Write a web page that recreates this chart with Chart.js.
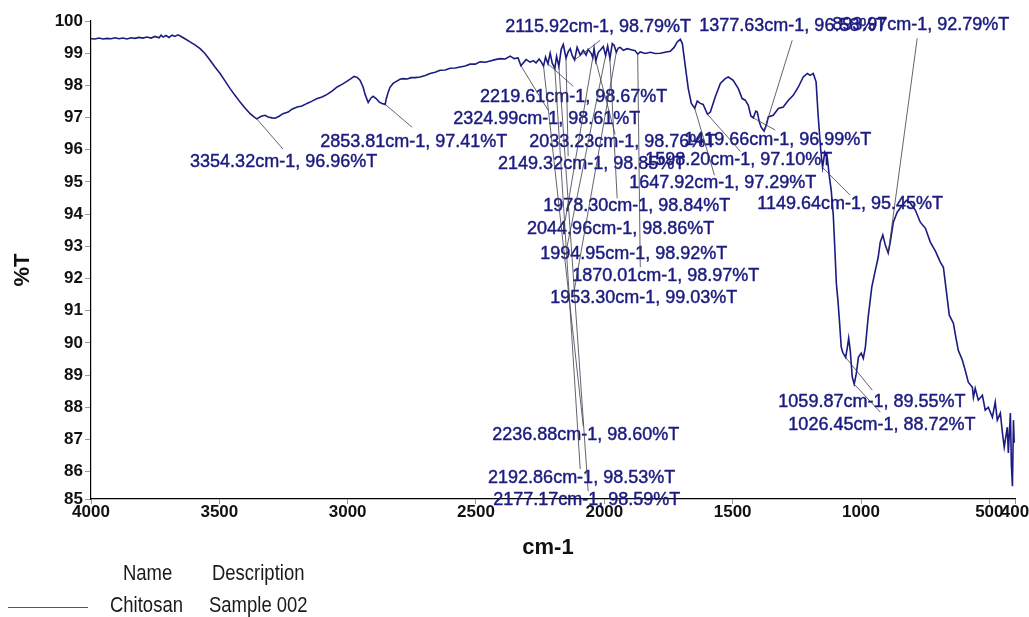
<!DOCTYPE html>
<html>
<head>
<meta charset="utf-8">
<title>FTIR spectrum – Chitosan</title>
<script src="https://cdn.jsdelivr.net/npm/chart.js@4/dist/chart.umd.min.js"></script>
<style>
  html, body { margin: 0; padding: 0; background: #fff; overflow: hidden; }
  canvas { display: block; }
</style>
</head>
<body>
<canvas id="spectrum" width="1029" height="617" style="width:1029px;height:617px"></canvas>
<script>
// Wavenumber axis (cm-1) and measured transmittance (%T) of the spectrum
const wavenumber = [
  4000, 3984, 3969, 3953, 3938, 3922, 3906, 3891, 3875, 3860, 3844, 3829, 3813, 3797, 3782, 3766,
  3751, 3735, 3727, 3719, 3708, 3696, 3684, 3673, 3661, 3649, 3634, 3614, 3595, 3575, 3556, 3536,
  3517, 3497, 3478, 3458, 3439, 3419, 3400, 3380, 3365, 3354.32, 3337, 3322, 3310, 3295, 3283, 3267,
  3252, 3232, 3217, 3197, 3178, 3158, 3139, 3119, 3100, 3080, 3061, 3041, 3022, 3002, 2987, 2975,
  2963, 2952, 2940, 2932, 2920, 2909, 2901, 2889, 2877, 2866, 2853.81, 2850, 2842, 2835, 2823, 2807,
  2796, 2784, 2768, 2753, 2737, 2718, 2698, 2679, 2659, 2640, 2620, 2601, 2581, 2562, 2542, 2523,
  2503, 2484, 2464, 2445, 2425, 2406, 2386, 2367, 2351, 2336, 2324.99, 2305, 2289, 2277, 2266, 2254,
  2246, 2236.88, 2229, 2219.61, 2211, 2203, 2192.86, 2186, 2177.17, 2168, 2160, 2149.32, 2141, 2133, 2125, 2115.92,
  2106, 2094, 2082, 2071, 2063, 2051, 2044.96, 2040, 2033.23, 2024, 2016, 2004, 1994.95, 1987, 1978.30, 1969,
  1962, 1953.30, 1946, 1938, 1926, 1911, 1891, 1880, 1870.01, 1860, 1841, 1821, 1802, 1782, 1763, 1743,
  1728, 1716, 1704, 1696, 1685, 1673, 1661, 1647.92, 1638, 1626, 1615, 1598.20, 1587, 1568, 1548, 1529,
  1517, 1498, 1478, 1463, 1451, 1439, 1429, 1419.66, 1410, 1404, 1396, 1389, 1377.63, 1369, 1361, 1342,
  1322, 1303, 1283, 1264, 1244, 1225, 1209, 1198, 1186, 1175, 1167, 1157, 1149.64, 1141, 1131, 1124,
  1116, 1108, 1102, 1096, 1090, 1085, 1077, 1071, 1059.87, 1053, 1048, 1042, 1034, 1026.45, 1018, 1010,
  999, 991, 983, 972, 958, 944, 933, 925, 915, 905, 893.97, 886, 874, 859, 839, 823,
  808, 788, 769, 749, 730, 710, 691, 679, 668, 656, 640, 632, 621, 605, 594, 582,
  566, 562, 555, 543, 527, 516, 504, 488, 477, 469, 457, 449, 442, 430, 426, 418,
  414, 410, 406, 403
];
const transmittance = [
  99.45, 99.44, 99.47, 99.44, 99.46, 99.45, 99.48, 99.45, 99.47, 99.44, 99.48, 99.46, 99.49, 99.47, 99.50, 99.47,
  99.52, 99.48, 99.56, 99.50, 99.55, 99.49, 99.56, 99.52, 99.57, 99.52, 99.45, 99.35, 99.26, 99.14, 98.99, 98.78,
  98.57, 98.37, 98.14, 97.90, 97.69, 97.48, 97.30, 97.12, 97.02, 96.96, 97.04, 97.07, 97.02, 96.99, 96.98, 97.04,
  97.12, 97.17, 97.26, 97.33, 97.36, 97.44, 97.51, 97.59, 97.64, 97.72, 97.82, 97.95, 98.03, 98.13, 98.21, 98.28,
  98.25, 98.16, 97.95, 97.72, 97.47, 97.61, 97.66, 97.59, 97.48, 97.44, 97.41, 97.57, 97.79, 97.94, 98.06, 98.14,
  98.19, 98.21, 98.20, 98.24, 98.24, 98.26, 98.31, 98.37, 98.41, 98.47, 98.48, 98.53, 98.54, 98.57, 98.60, 98.66,
  98.66, 98.73, 98.72, 98.76, 98.80, 98.83, 98.82, 98.91, 98.83, 98.85, 98.61, 98.80, 98.72, 98.77, 98.70, 98.82,
  98.73, 98.60, 98.88, 98.67, 99.00, 98.69, 98.53, 98.90, 98.59, 99.12, 99.27, 98.85, 99.04, 99.14, 98.92, 98.79,
  99.18, 98.94, 99.09, 98.94, 99.12, 98.99, 98.86, 99.15, 98.76, 99.02, 99.09, 99.21, 98.92, 99.22, 98.84, 99.30,
  99.25, 99.03, 99.16, 99.18, 99.09, 99.14, 99.10, 99.08, 98.97, 99.04, 98.99, 99.03, 98.99, 99.00, 99.03, 99.06,
  99.18, 99.35, 99.43, 99.30, 98.62, 97.90, 97.44, 97.29, 97.51, 97.44, 97.41, 97.10, 97.17, 97.64, 98.06, 98.21,
  98.26, 98.16, 97.90, 97.59, 97.54, 97.38, 97.05, 96.99, 97.20, 97.17, 96.86, 96.70, 96.58, 96.76, 97.02, 97.07,
  97.28, 97.33, 97.54, 97.69, 97.95, 98.26, 98.37, 98.31, 98.37, 98.11, 97.07, 96.00, 95.45, 95.92, 95.74, 95.21,
  94.74, 93.97, 92.94, 91.85, 91.33, 90.80, 89.87, 89.70, 89.55, 89.87, 90.15, 89.77, 88.94, 88.72, 89.06, 89.56,
  89.68, 89.52, 89.87, 90.80, 91.73, 92.26, 92.66, 93.13, 93.35, 93.03, 92.79, 93.13, 93.75, 94.06, 94.28, 94.43,
  94.34, 94.12, 93.75, 93.56, 93.13, 92.85, 92.51, 92.35, 91.64, 90.86, 90.61, 90.24, 89.77, 89.46, 89.15, 88.78,
  88.62, 88.31, 88.59, 88.22, 88.37, 87.91, 88.00, 87.69, 88.16, 87.60, 87.82, 87.20, 86.76, 87.38, 86.58, 87.82,
  86.20, 85.55, 87.60, 86.90
];

// Picked peaks: position (cm-1) and transmittance (%T)
const peakWavenumber = [3354.32, 2853.81, 2115.92, 2219.61, 2324.99, 2033.23, 1419.66, 1377.63, 893.97,
  2149.32, 1598.20, 1647.92, 1149.64, 1978.30, 2044.96, 1994.95, 1870.01, 1953.30, 2236.88, 2192.86, 2177.17,
  1059.87, 1026.45];
const peakTransmittance = [96.96, 97.41, 98.79, 98.67, 98.61, 98.76, 96.99, 96.58, 92.79,
  98.85, 97.10, 97.29, 95.45, 98.84, 98.86, 98.92, 98.97, 99.03, 98.60, 98.53, 98.59,
  89.55, 88.72];

// Where each peak label sits (text start, in axis units) and where its leader line ends
const labelAtX = [3614, 3107, 2386, 2484, 2589, 2293, 1689, 1630, 1112, 2414, 1841, 1903, 1404, 2238, 2301, 2250, 2125, 2211, 2437, 2453, 2433, 1322, 1283];
const labelAtY = [95.61, 96.23, 99.80, 97.63, 96.95, 96.23, 96.29, 99.84, 99.88, 95.55, 95.67, 94.96, 94.31, 94.25, 93.53, 92.75, 92.07, 91.39, 87.13, 85.80, 85.11, 88.16, 87.44];
const leaderToX = [3252, 2749, 2016, 2121, 2219, 1958, 1334, 1268, 781, 2141, 1470, 1571, 1042, 1950, 2153, 2145, 1860, 2117, 2082, 2094, 2063, 956, 925];
const leaderToY = [96.02, 96.70, 99.40, 97.97, 97.23, 96.48, 96.61, 99.40, 99.46, 95.80, 95.95, 95.21, 94.59, 94.49, 93.78, 93.00, 92.35, 91.64, 87.41, 86.08, 85.39, 88.53, 87.85];

// Axis ticks and titles
const xTicks = [4000, 3500, 3000, 2500, 2000, 1500, 1000, 500, 400];
const yTicks = [85, 86, 87, 88, 89, 90, 91, 92, 93, 94, 95, 96, 97, 98, 99, 100];
const xTitle = 'cm-1';
const yTitle = '%T';

// Legend table
const legendHeaders = ['Name', 'Description'];
const seriesName = 'Chitosan';
const seriesDescription = 'Sample 002';

const FONT = '"Liberation Sans", Arial, Helvetica, sans-serif';
const INK = '#1b1b80';

const overlay = {
  id: 'overlay',
  afterDraw(chart) {
    const { ctx, scales: { x, y } } = chart;
    ctx.save();

    // peak labels (slightly heavier than the regular face)
    ctx.font = '18px ' + FONT;
    ctx.fillStyle = INK;
    ctx.strokeStyle = INK;
    ctx.lineWidth = 0.45;
    ctx.textAlign = 'left';
    ctx.textBaseline = 'middle';
    peakWavenumber.forEach((w, i) => {
      const t = peakTransmittance[i];
      const text = w.toFixed(2) + 'cm-1, ' + t.toFixed(2) + '%T';
      const px = x.getPixelForValue(labelAtX[i]);
      const py = y.getPixelForValue(labelAtY[i]);
      ctx.fillText(text, px, py);
      ctx.strokeText(text, px, py);
    });

    // leader lines from each peak to its label
    ctx.strokeStyle = '#3c3c4c';
    ctx.lineWidth = 0.8;
    peakWavenumber.forEach((w, i) => {
      ctx.beginPath();
      ctx.moveTo(x.getPixelForValue(w), y.getPixelForValue(peakTransmittance[i]));
      ctx.lineTo(x.getPixelForValue(leaderToX[i]), y.getPixelForValue(leaderToY[i]));
      ctx.stroke();
    });

    // axis titles
    ctx.fillStyle = '#111';
    ctx.font = 'bold 22px ' + FONT;
    ctx.textAlign = 'center';
    ctx.fillText(xTitle, 548, 548);
    ctx.save();
    ctx.translate(23, 270);
    ctx.rotate(-Math.PI / 2);
    ctx.fillText(yTitle, 0, 0);
    ctx.restore();

    // legend table under the plot
    const narrow = (text, left, cy) => {
      ctx.save();
      ctx.translate(left, cy);
      ctx.scale(0.84, 1);
      ctx.fillText(text, 0, 0);
      ctx.restore();
    };
    ctx.fillStyle = '#1a1a1a';
    ctx.font = '22px ' + FONT;
    ctx.textAlign = 'left';
    narrow(legendHeaders[0], 123, 574);
    narrow(legendHeaders[1], 212, 574);
    narrow(seriesName, 110, 606);
    narrow(seriesDescription, 209, 606);
    ctx.strokeStyle = '#55556a';
    ctx.lineWidth = 1;
    ctx.beginPath();
    ctx.moveTo(8, 607.5);
    ctx.lineTo(88, 607.5);
    ctx.stroke();

    ctx.restore();
  }
};

new Chart(document.getElementById('spectrum'), {
  type: 'line',
  data: {
    datasets: [{
      label: seriesName,
      data: wavenumber.map((w, i) => ({ x: w, y: transmittance[i] })),
      borderColor: INK,
      borderWidth: 1.6,
      pointRadius: 0,
      tension: 0,
      fill: false
    }]
  },
  options: {
    responsive: false,
    animation: false,
    events: [],
    layout: { padding: { top: 21, right: 14, left: 0, bottom: 0 } },
    plugins: { legend: { display: false }, tooltip: { enabled: false } },
    scales: {
      x: {
        type: 'linear',
        reverse: true,
        min: 400,
        max: 4000,
        afterBuildTicks: s => { s.ticks = xTicks.map(v => ({ value: v })); },
        afterFit: s => { s.height = 118; },
        ticks: {
          autoSkip: false,
          maxRotation: 0,
          padding: -2,
          color: '#111',
          font: { family: FONT, size: 17, weight: 'bold' },
          callback: (v, i) => String(xTicks[i])
        },
        grid: { drawOnChartArea: false, tickLength: 5, color: '#9a9a9a' },
        border: { color: '#000', width: 1.2 }
      },
      y: {
        min: 85.15,
        max: 100,
        afterBuildTicks: s => { s.ticks = yTicks.map(v => ({ value: Math.max(v, s.min) })); },
        afterFit: s => { s.width = 91; },
        ticks: {
          autoSkip: false,
          padding: 2,
          color: '#111',
          font: { family: FONT, size: 17, weight: 'bold' },
          callback: (v, i) => String(yTicks[i])
        },
        grid: { drawOnChartArea: false, tickLength: 6, color: '#9a9a9a' },
        border: { color: '#000', width: 1.2 }
      }
    }
  },
  plugins: [overlay]
});
</script>
</body>
</html>
